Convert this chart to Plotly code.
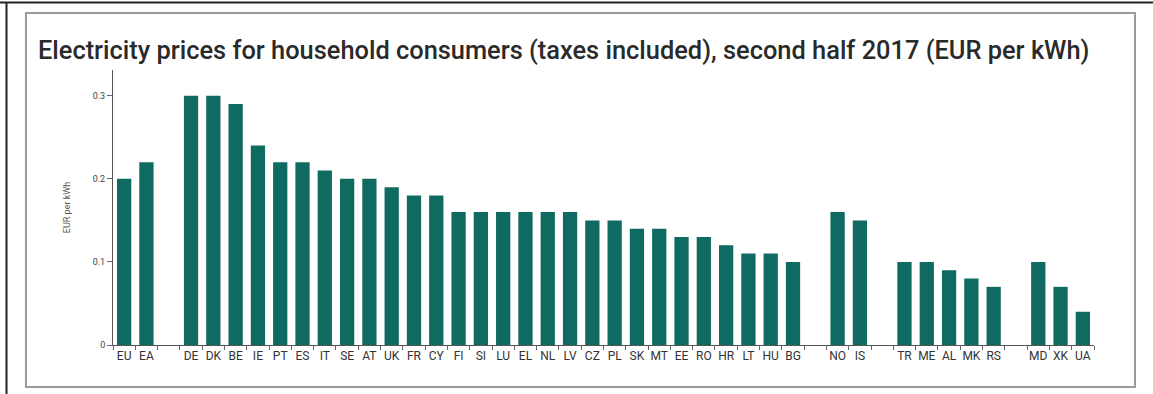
import plotly.graph_objects as go

categories = ["EU", "EA", " ",
              "DE", "DK", "BE", "IE", "PT", "ES", "IT", "SE", "AT", "UK", "FR", "CY", "FI", "SI",
              "LU", "EL", "NL", "LV", "CZ", "PL", "SK", "MT", "EE", "RO", "HR", "LT", "HU", "BG",
              "  ", "NO", "IS", "   ", "TR", "ME", "AL", "MK", "RS", "    ", "MD", "XK", "UA"]
values = [0.20, 0.22, None,
          0.30, 0.30, 0.29, 0.24, 0.22, 0.22, 0.21, 0.20, 0.20, 0.19, 0.18, 0.18, 0.16, 0.16,
          0.16, 0.16, 0.16, 0.16, 0.15, 0.15, 0.14, 0.14, 0.13, 0.13, 0.12, 0.11, 0.11, 0.10,
          None, 0.16, 0.15, None, 0.10, 0.10, 0.09, 0.08, 0.07, None, 0.10, 0.07, 0.04]
y_ticks = [0, 0.1, 0.2, 0.3]
y_tick_text = ["0", "0.1", "0.2", "0.3"]

W, H = 1153, 394
L, R, T, B = 113, 1094, 70, 345

def px(x):
    return (x - L) / (R - L)

def py(y):
    return (B - y) / (B - T)

fig = go.Figure(go.Bar(x=categories, y=values, marker=dict(color="#0f6b61", line=dict(width=0))))

shapes = [
    # outer frame lines
    dict(type="line", xref="paper", yref="paper", x0=px(0), x1=px(W), y0=py(2.5), y1=py(2.5),
         line=dict(color="#222", width=2), layer="below"),
    dict(type="line", xref="paper", yref="paper", x0=px(6.5), x1=px(6.5), y0=py(2), y1=py(H),
         line=dict(color="#222", width=2), layer="below"),
    # inner frame
    dict(type="rect", xref="paper", yref="paper", x0=px(26), x1=px(1135), y0=py(387), y1=py(13),
         line=dict(color="#9a9a9a", width=2), layer="below"),
]

fig.update_layout(
    width=W, height=H,
    margin=dict(l=L, r=W - R, t=T, b=H - B, pad=0),
    paper_bgcolor="white", plot_bgcolor="white",
    bargap=0.36,
    showlegend=False,
    shapes=shapes,
    font=dict(family="Roboto, Liberation Sans Narrow, sans-serif", color="#333"),
    title=dict(text="Electricity prices for household consumers (taxes included), second half 2017 (EUR per kWh)",
               x=38 / W, xanchor="left", y=1 - 50 / H, yanchor="middle", xref="container", yref="container",
               font=dict(family="Roboto", size=25.4, color="#2a2a2a", weight=500)),
    xaxis=dict(type="category", tickson="boundaries", ticks="outside", ticklen=4, tickangle=0,
               tickcolor="#666", showline=True, linecolor="#555", linewidth=1,
               tickfont=dict(family="Liberation Sans Narrow, Roboto", size=12, color="#333"),
               showgrid=False, zeroline=False, fixedrange=True),
    yaxis=dict(range=[0, 0.331], tickvals=y_ticks, ticktext=y_tick_text, ticks="outside",
               ticklen=5, tickcolor="#666", showline=True, linecolor="#555", linewidth=1,
               showgrid=False, zeroline=False,
               tickfont=dict(family="Liberation Sans Narrow, Roboto", size=9, color="#444"),
               title=dict(text="EUR per kWh", standoff=20,
                          font=dict(family="Liberation Sans Narrow, Roboto", size=9, color="#555"))),
)

fig.write_html("out.html")
